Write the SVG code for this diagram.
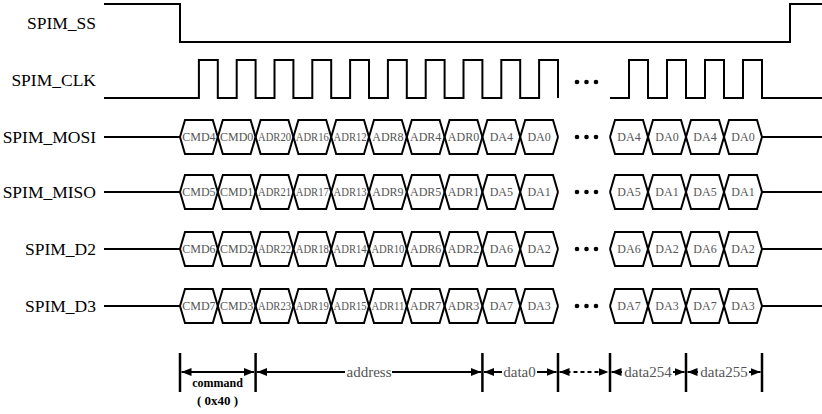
<svg xmlns="http://www.w3.org/2000/svg" xmlns:xlink="http://www.w3.org/1999/xlink" width="822" height="414" viewBox="0 0 822 414">
<style>
.wave{fill:none;stroke:#000;stroke-width:2}
.lbl{font-family:"Liberation Serif","DejaVu Serif",serif;font-size:17.5px;fill:#000;text-anchor:end}
.bx{font-family:"Liberation Serif","DejaVu Serif",serif;font-size:12px;fill:#555;text-anchor:middle}
.dim{font-family:"Liberation Serif","DejaVu Serif",serif;font-size:15px;fill:#555;text-anchor:middle}
.cmd{font-family:"Liberation Serif","DejaVu Serif",serif;font-size:12px;fill:#000;text-anchor:middle;font-weight:bold}
.tick{stroke:#000;stroke-width:2.5}
.arr{stroke:#000;stroke-width:2;fill:none;marker-start:url(#ah);marker-end:url(#ah)}
.dot{fill:#000}
</style>
<defs>
<marker id="ah" viewBox="0 0 10 8" refX="10" refY="4" markerWidth="10" markerHeight="8" markerUnits="userSpaceOnUse" orient="auto-start-reverse"><path d="M0,0 L10,4 L0,8 z" fill="#000"/></marker>
<g id="chain">
<path class="wave" d="M104,0 H180"/>
<path class="wave" d="M180,0 L185,-17 H212.8 L222.8,17 H250.6 L260.6,-17 H288.4 L298.4,17 H326.2 L336.2,-17 H364 L374,17 H401.8 L411.8,-17 H439.6 L449.6,17 H477.4 L487.4,-17 H515.2 L525.2,17 H553 L558,0"/>
<path class="wave" d="M180,0 L185,17 H212.8 L222.8,-17 H250.6 L260.6,17 H288.4 L298.4,-17 H326.2 L336.2,17 H364 L374,-17 H401.8 L411.8,17 H439.6 L449.6,-17 H477.4 L487.4,17 H515.2 L525.2,-17 H553 L558,0"/>
<circle class="dot" cx="577" cy="0" r="2.3"/><circle class="dot" cx="586.5" cy="0" r="2.3"/><circle class="dot" cx="596" cy="0" r="2.3"/>
<path class="wave" d="M610,0 L615,-17 H643 L653,17 H681 L691,-17 H719 L729,17 H757 L762,0 H822"/>
<path class="wave" d="M610,0 L615,17 H643 L653,-17 H681 L691,17 H719 L729,-17 H757 L762,0"/>
</g>
</defs>

<g id="spim_ss">
<text class="lbl" x="96" y="29">SPIM_SS</text>
<path class="wave" d="M104,4 H180 V42 H790 V4 H822"/>
</g>

<g id="spim_clk">
<text class="lbl" x="96" y="86">SPIM_CLK</text>
<path class="wave" d="M104,98 H198.9 V60 H217.8 V98 H236.7 V60 H255.6 V98 H274.5 V60 H293.4 V98 H312.3 V60 H331.2 V98 H350.1 V60 H369 V98 H387.9 V60 H406.8 V98 H425.7 V60 H444.6 V98 H463.5 V60 H482.4 V98 H501.3 V60 H520.2 V98 H539.1 V60 H558 V98"/>
<circle class="dot" cx="577" cy="82" r="2.3"/><circle class="dot" cx="586.5" cy="82" r="2.3"/><circle class="dot" cx="596" cy="82" r="2.3"/>
<path class="wave" d="M610,98 H629 V60 H648 V98 H667 V60 H686 V98 H705 V60 H724 V98 H743 V60 H762 V98 H822"/>
</g>

<g id="spim_mosi">
<text class="lbl" x="96" y="143">SPIM_MOSI</text>
<use xlink:href="#chain" href="#chain" y="137"/>
<g class="bx">
<text x="198.9" y="141">CMD4</text><text x="236.7" y="141">CMD0</text><text x="274.5" y="141" textLength="33" lengthAdjust="spacingAndGlyphs">ADR20</text><text x="312.3" y="141" textLength="33" lengthAdjust="spacingAndGlyphs">ADR16</text><text x="350.1" y="141" textLength="33" lengthAdjust="spacingAndGlyphs">ADR12</text><text x="387.9" y="141">ADR8</text><text x="425.7" y="141">ADR4</text><text x="463.5" y="141">ADR0</text><text x="501.3" y="141">DA4</text><text x="539.1" y="141">DA0</text>
<text x="629" y="141">DA4</text><text x="667" y="141">DA0</text><text x="705" y="141">DA4</text><text x="743" y="141">DA0</text>
</g>
</g>

<g id="spim_miso">
<text class="lbl" x="96" y="198">SPIM_MISO</text>
<use xlink:href="#chain" href="#chain" y="192"/>
<g class="bx">
<text x="198.9" y="196">CMD5</text><text x="236.7" y="196">CMD1</text><text x="274.5" y="196" textLength="33" lengthAdjust="spacingAndGlyphs">ADR21</text><text x="312.3" y="196" textLength="33" lengthAdjust="spacingAndGlyphs">ADR17</text><text x="350.1" y="196" textLength="33" lengthAdjust="spacingAndGlyphs">ADR13</text><text x="387.9" y="196">ADR9</text><text x="425.7" y="196">ADR5</text><text x="463.5" y="196">ADR1</text><text x="501.3" y="196">DA5</text><text x="539.1" y="196">DA1</text>
<text x="629" y="196">DA5</text><text x="667" y="196">DA1</text><text x="705" y="196">DA5</text><text x="743" y="196">DA1</text>
</g>
</g>

<g id="spim_d2">
<text class="lbl" x="96" y="255">SPIM_D2</text>
<use xlink:href="#chain" href="#chain" y="249"/>
<g class="bx">
<text x="198.9" y="253">CMD6</text><text x="236.7" y="253">CMD2</text><text x="274.5" y="253" textLength="33" lengthAdjust="spacingAndGlyphs">ADR22</text><text x="312.3" y="253" textLength="33" lengthAdjust="spacingAndGlyphs">ADR18</text><text x="350.1" y="253" textLength="33" lengthAdjust="spacingAndGlyphs">ADR14</text><text x="387.9" y="253" textLength="33" lengthAdjust="spacingAndGlyphs">ADR10</text><text x="425.7" y="253">ADR6</text><text x="463.5" y="253">ADR2</text><text x="501.3" y="253">DA6</text><text x="539.1" y="253">DA2</text>
<text x="629" y="253">DA6</text><text x="667" y="253">DA2</text><text x="705" y="253">DA6</text><text x="743" y="253">DA2</text>
</g>
</g>

<g id="spim_d3">
<text class="lbl" x="96" y="312">SPIM_D3</text>
<use xlink:href="#chain" href="#chain" y="306"/>
<g class="bx">
<text x="198.9" y="310">CMD7</text><text x="236.7" y="310">CMD3</text><text x="274.5" y="310" textLength="33" lengthAdjust="spacingAndGlyphs">ADR23</text><text x="312.3" y="310" textLength="33" lengthAdjust="spacingAndGlyphs">ADR19</text><text x="350.1" y="310" textLength="33" lengthAdjust="spacingAndGlyphs">ADR15</text><text x="387.9" y="310" textLength="33" lengthAdjust="spacingAndGlyphs">ADR11</text><text x="425.7" y="310">ADR7</text><text x="463.5" y="310">ADR3</text><text x="501.3" y="310">DA7</text><text x="539.1" y="310">DA3</text>
<text x="629" y="310">DA7</text><text x="667" y="310">DA3</text><text x="705" y="310">DA7</text><text x="743" y="310">DA3</text>
</g>
</g>

<g id="connectors">
<g class="ticks">
<line class="tick" x1="180" y1="353" x2="180" y2="392"/>
<line class="tick" x1="255.6" y1="353" x2="255.6" y2="392"/>
<line class="tick" x1="482.4" y1="353" x2="482.4" y2="392"/>
<line class="tick" x1="558" y1="353" x2="558" y2="392"/>
<line class="tick" x1="610" y1="353" x2="610" y2="392"/>
<line class="tick" x1="686" y1="353" x2="686" y2="392"/>
<line class="tick" x1="762" y1="353" x2="762" y2="392"/>
</g>
<line class="arr" x1="181.5" y1="372" x2="254" y2="372"/>
<line class="arr" x1="257" y1="372" x2="481" y2="372"/>
<line class="arr" x1="484" y1="372" x2="556.5" y2="372"/>
<line class="arr" x1="559.5" y1="372" x2="608.5" y2="372" stroke-dasharray="4,3"/>
<line class="arr" x1="611.5" y1="372" x2="684.5" y2="372"/>
<line class="arr" x1="687.5" y1="372" x2="760.5" y2="372"/>
<rect x="345" y="363" width="47" height="18" fill="#fff"/>
<rect x="502" y="363" width="35" height="18" fill="#fff"/>
<rect x="622" y="363" width="51" height="18" fill="#fff"/>
<rect x="698" y="363" width="51" height="18" fill="#fff"/>
<text class="dim" x="369" y="377">address</text>
<text class="dim" x="519.5" y="377">data0</text>
<text class="dim" x="648" y="377">data254</text>
<text class="dim" x="724" y="377">data255</text>
<text class="cmd" x="217.5" y="387">command</text>
<text class="cmd" x="217.5" y="405" style="font-size:13px">( 0x40 )</text>
</g>
</svg>
